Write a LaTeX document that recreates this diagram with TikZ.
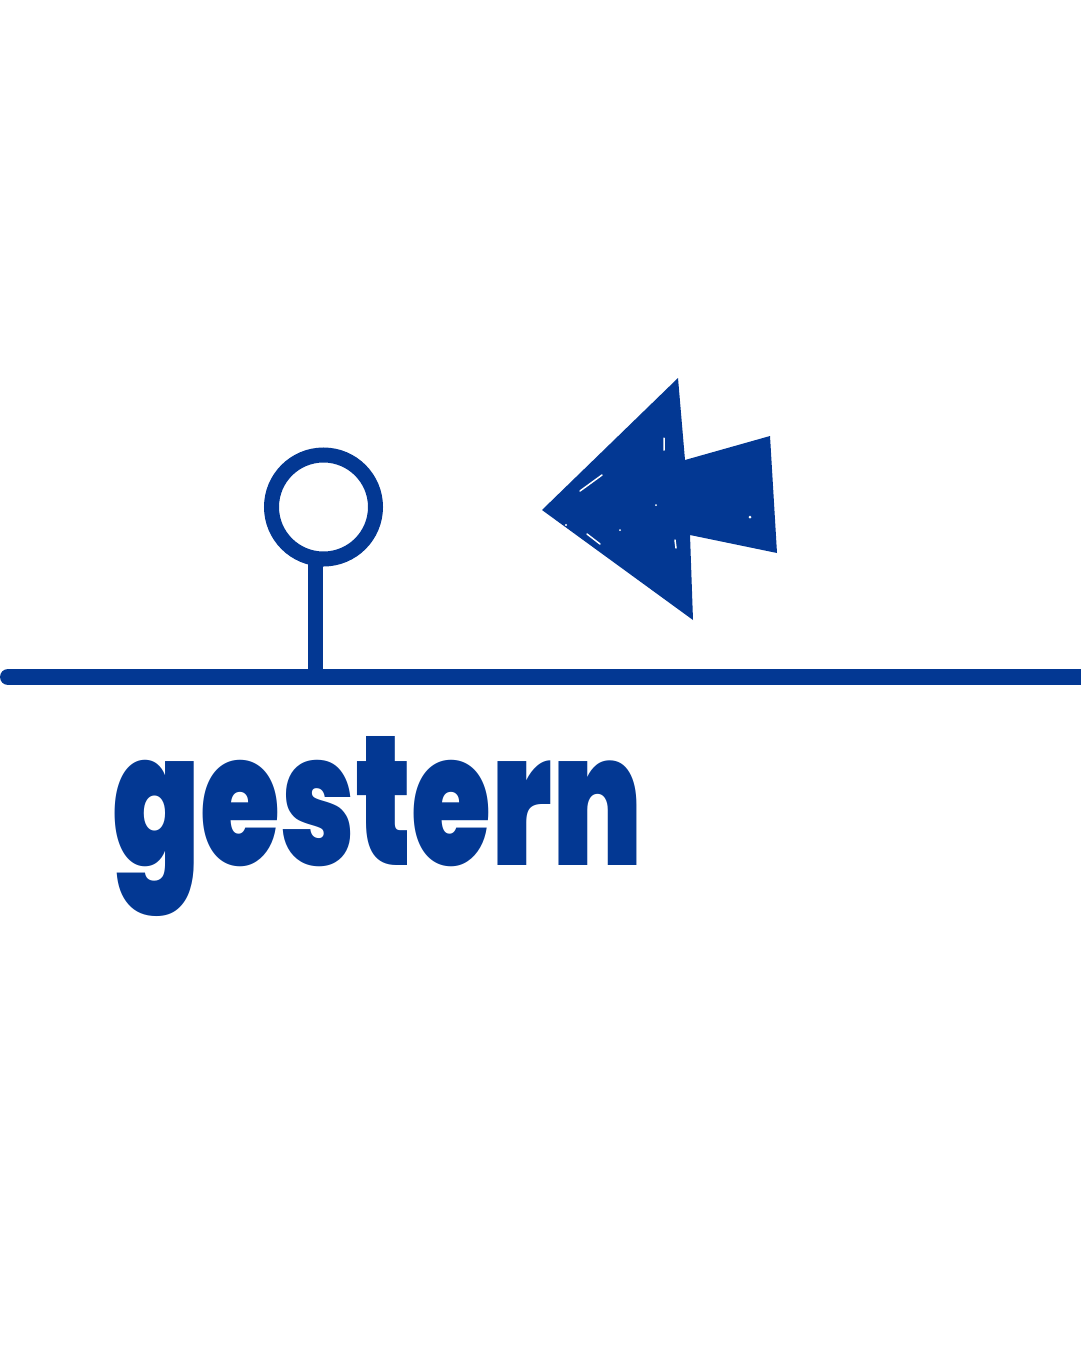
\documentclass[tikz,border=0pt]{standalone}
\usepackage{fontspec}
\newfontfamily\heavyfont{Poppins Black}
\definecolor{navy}{RGB}{3,56,147}
\begin{document}
\begin{tikzpicture}[x=1pt, y=-1pt]
	\useasboundingbox (0,0) rectangle (1080,1350);
	\fill[white] (0,0) rectangle (1080,1350);
	% time line
	\coordinate (left) at (8,677);
	\coordinate (right) at (1090,677);
	\draw[navy, line width=16pt, line cap=round] (left) -- (right);
	% pin
	\node[circle, draw=navy, line width=15pt, minimum size=104pt, inner sep=0pt] (pin) at (323.5,507) {};
	\coordinate (stemtop) at (315.5,560);
	\coordinate (stemfoot) at (315.5,677);
	\draw[navy, line width=15pt] (stemtop) -- (stemfoot);
	% arrow back
	\fill[navy] (542,510) -- (678,378) -- (685,460) -- (770,436) -- (777,553) -- (690,535) -- (693,620) -- cycle;
	\draw[white, line width=1.5pt, line cap=round] (602,475) -- (580,491) (664,438) -- (664,450) (587,534) -- (600,544) (675,540) -- (676,548);
	\fill[white] (750,517) circle (1.5pt) (656,505) circle (1pt) (620,530) circle (1pt) (566,525) circle (1.2pt);
	\node[anchor=base west, inner sep=0pt, text=navy] (word) at (112,865) {\resizebox*{530pt}{180pt}{\heavyfont gestern}};
\end{tikzpicture}
\end{document}
